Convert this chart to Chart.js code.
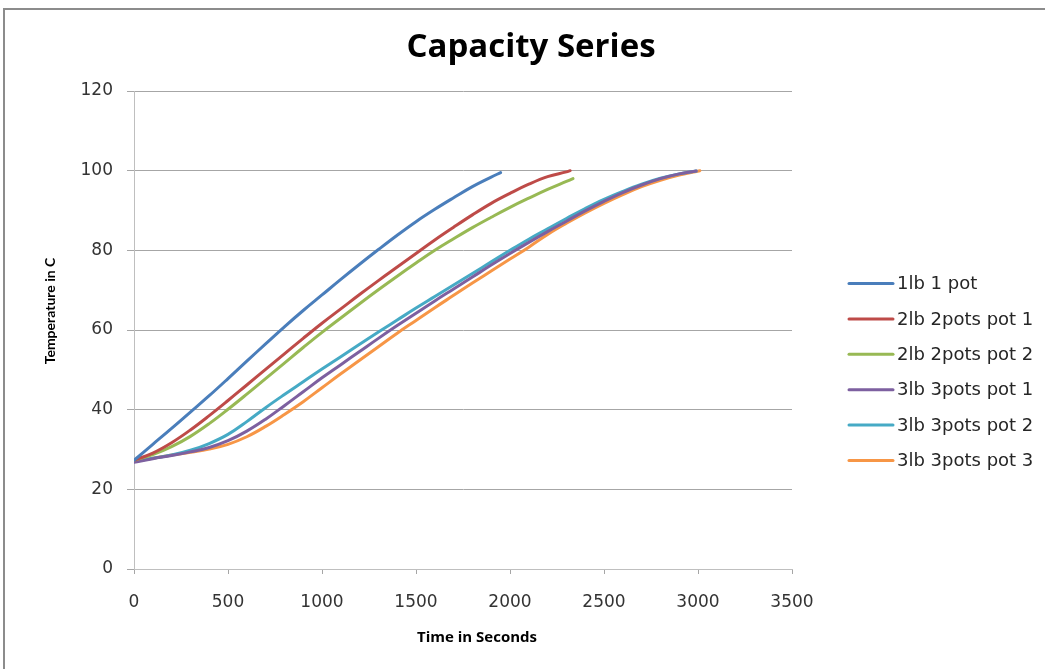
<!DOCTYPE html>
<html lang="en">
<head>
  <meta charset="UTF-8">
  <title>Capacity Series</title>
  <script src="https://cdn.jsdelivr.net/npm/chart.js"></script>
  <style>
    html, body { margin: 0; padding: 0; background: #fff; }
    #wrap { position: relative; width: 1045px; height: 669px; }
  </style>
</head>
<body>
  <div id="wrap">
    <canvas id="myChart" width="1045" height="669"></canvas>
  </div>

<script>
  // series names
  const names = ['1lb 1 pot', '2lb 2pots pot 1', '2lb 2pots pot 2', '3lb 3pots pot 1', '3lb 3pots pot 2', '3lb 3pots pot 3']
  const colors = ['#4a7ebb', '#be4b48', '#98b954', '#7d60a0', '#46aac5', '#f79646']

  // time in seconds / temperature in C
  const t1 = [0, 100, 200, 300, 400, 500, 600, 700, 800, 900, 1000, 1100, 1200, 1300, 1400, 1500, 1600, 1700, 1800, 1900, 1950]
  const c1 = [27.3, 31.3, 35.3, 39.4, 43.5, 47.8, 52.2, 56.5, 60.8, 64.9, 68.8, 72.7, 76.5, 80.2, 83.8, 87.2, 90.3, 93.2, 96.0, 98.4, 99.5]

  const t2 = [0, 100, 200, 300, 400, 500, 600, 700, 800, 900, 1000, 1100, 1200, 1300, 1400, 1500, 1600, 1700, 1800, 1900, 2000, 2100, 2200, 2300, 2320]
  const c2 = [27.3, 29.1, 31.7, 34.9, 38.5, 42.3, 46.2, 50.1, 54.0, 57.9, 61.7, 65.3, 68.9, 72.4, 75.8, 79.2, 82.6, 85.8, 88.9, 91.8, 94.3, 96.6, 98.5, 99.7, 100]

  const t3 = [0, 100, 200, 300, 400, 500, 600, 700, 800, 900, 1000, 1100, 1200, 1300, 1400, 1500, 1600, 1700, 1800, 1900, 2000, 2100, 2200, 2300, 2335]
  const c3 = [27.3, 28.7, 30.7, 33.3, 36.5, 40.1, 43.9, 47.8, 51.7, 55.6, 59.4, 63.0, 66.6, 70.1, 73.5, 76.8, 80.0, 82.9, 85.7, 88.3, 90.8, 93.1, 95.3, 97.3, 98.0]

  const t4 = [0, 100, 200, 300, 400, 500, 600, 700, 800, 900, 1000, 1100, 1200, 1300, 1400, 1500, 1600, 1700, 1800, 1900, 2000, 2100, 2200, 2300, 2400, 2500, 2600, 2700, 2800, 2900, 2990]
  const c4 = [26.8, 27.7, 28.5, 29.4, 30.5, 32.2, 34.6, 37.6, 41.0, 44.5, 48.0, 51.3, 54.6, 57.9, 61.1, 64.2, 67.3, 70.3, 73.3, 76.3, 79.2, 82.0, 84.7, 87.3, 89.9, 92.3, 94.5, 96.4, 98.0, 99.2, 99.9]

  const t5 = [0, 100, 200, 300, 400, 500, 600, 700, 800, 900, 1000, 1100, 1200, 1300, 1400, 1500, 1600, 1700, 1800, 1900, 2000, 2100, 2200, 2300, 2400, 2500, 2600, 2700, 2800, 2900, 2990]
  const c5 = [27.0, 27.8, 28.6, 29.8, 31.5, 33.8, 37.0, 40.5, 43.8, 47.0, 50.2, 53.3, 56.4, 59.5, 62.5, 65.5, 68.4, 71.3, 74.2, 77.1, 80.0, 82.8, 85.4, 88.0, 90.5, 92.8, 94.8, 96.6, 98.1, 99.2, 99.9]

  const t6 = [0, 100, 200, 300, 400, 500, 600, 700, 800, 900, 1000, 1100, 1200, 1300, 1400, 1500, 1600, 1700, 1800, 1900, 2000, 2100, 2200, 2300, 2400, 2500, 2600, 2700, 2800, 2900, 3010]
  const c6 = [27.0, 27.8, 28.6, 29.3, 30.1, 31.3, 33.2, 35.8, 38.8, 42.0, 45.5, 49.0, 52.4, 55.8, 59.2, 62.4, 65.6, 68.7, 71.8, 74.8, 77.8, 80.8, 84.0, 86.8, 89.4, 91.8, 94.0, 96.0, 97.6, 98.9, 100]

  const times = [t1, t2, t3, t4, t5, t6]
  const temps = [c1, c2, c3, c4, c5, c6]

  const datasets = []
  for (var i = 0; i < names.length; i++) {
    var pts = []
    for (var j = 0; j < times[i].length; j++) {
      pts.push({ x: times[i][j], y: temps[i][j] })
    }
    datasets.push({
      label: names[i],
      data: pts,
      borderColor: colors[i],
      backgroundColor: colors[i],
      borderWidth: 3,
      pointRadius: 0,
      showLine: true,
      tension: 0.4,
      borderCapStyle: 'round'
    })
  }

  // frame, title, axis titles and legend
  const extras = {
    id: 'extras',
    beforeDraw(chart) {
      const ctx = chart.ctx
      ctx.save()
      ctx.strokeStyle = '#8c8c8c'
      ctx.lineWidth = 2
      ctx.beginPath()
      ctx.moveTo(4, 700)
      ctx.lineTo(4, 9)
      ctx.lineTo(1100, 9)
      ctx.stroke()
      ctx.restore()
    },
    afterDraw(chart) {
      const ctx = chart.ctx
      ctx.save()
      ctx.fillStyle = '#000'
      ctx.textAlign = 'center'
      ctx.textBaseline = 'middle'
      ctx.font = 'bold 33px "Open Sans"'
      ctx.fillText('Capacity Series', 531, 48)

      ctx.font = 'bold 15px "Open Sans"'
      ctx.fillText('Time in Seconds', 477, 638)

      ctx.save()
      ctx.translate(50, 311)
      ctx.rotate(-Math.PI / 2)
      ctx.font = 'bold 14px Lato'
      ctx.fillText('Temperature in C', 0, 0)
      ctx.restore()

      ctx.textAlign = 'left'
      ctx.font = '18px "DejaVu Sans"'
      chart.data.datasets.forEach(function (ds, k) {
        const y = 283.5 + k * 35.4
        ctx.strokeStyle = ds.borderColor
        ctx.lineWidth = 3
        ctx.lineCap = 'round'
        ctx.beginPath()
        ctx.moveTo(849, y)
        ctx.lineTo(893, y)
        ctx.stroke()
        ctx.fillStyle = '#262626'
        ctx.fillText(ds.label, 897, y + 1)
      })
      ctx.restore()
    }
  }

  const tickFont = { family: 'DejaVu Sans', size: 17 }

  new Chart(document.getElementById('myChart'), {
    type: 'scatter',
    data: { datasets: datasets },
    options: {
      responsive: false,
      animation: false,
      layout: { padding: { top: 91, right: 253, left: 0, bottom: 0 } },
      plugins: {
        legend: { display: false },
        title: { display: false },
        tooltip: { enabled: false }
      },
      scales: {
        x: {
          type: 'linear',
          min: 0,
          max: 3500,
          ticks: { stepSize: 500, font: tickFont, color: '#333', padding: 18, callback: v => String(v) },
          grid: { drawOnChartArea: false, drawTicks: true, tickLength: 5, tickColor: '#a6a6a6' },
          border: { color: '#bfbfbf', width: 1 },
          afterFit: function (s) { s.height = 100 }
        },
        y: {
          min: 0,
          max: 120,
          ticks: { stepSize: 20, font: tickFont, color: '#333', padding: 14 },
          grid: { color: '#a6a6a6', tickLength: 7, tickColor: '#a6a6a6' },
          border: { color: '#bfbfbf', width: 1 },
          afterFit: function (s) { s.width = 134 }
        }
      }
    },
    plugins: [extras]
  })
</script>
</body>
</html>
